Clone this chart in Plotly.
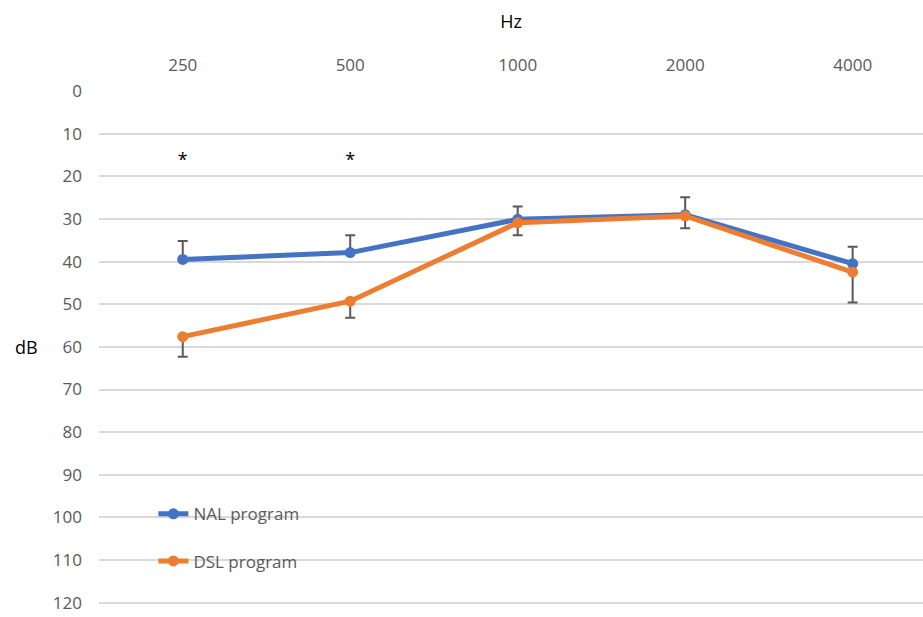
import plotly.graph_objects as go

freqs = ["250", "500", "1000", "2000", "4000"]
nal = [39.5, 37.9, 30.1, 29.0, 40.5]
nal_err = [4.3, 4.1, 3.0, 4.1, 4.0]
dsl = [57.6, 49.3, 30.9, 29.3, 42.5]
dsl_err = [4.7, 3.9, 2.9, 2.9, 7.1]
star_freqs = ["250", "500"]
star_y = [16.5, 16.5]
y_ticks = [0, 10, 20, 30, 40, 50, 60, 70, 80, 90, 100, 110, 120]

BLUE = "#4472C4"
ORANGE = "#ED7D31"
GREY = "#595959"
FONT = "Open Sans"

fig = go.Figure()
fig.add_trace(go.Scatter(
    x=freqs, y=nal, name="NAL program", mode="lines+markers",
    line=dict(color=BLUE, width=5), marker=dict(color=BLUE, size=11),
    error_y=dict(type="data", symmetric=False, array=[0]*5, arrayminus=nal_err,
                 color=GREY, thickness=2, width=5),
    legendgroup="a",
))
fig.add_trace(go.Scatter(
    x=freqs, y=dsl, name="DSL program", mode="lines+markers",
    line=dict(color=ORANGE, width=5), marker=dict(color=ORANGE, size=11),
    error_y=dict(type="data", symmetric=False, array=dsl_err, arrayminus=[0]*5,
                 color=GREY, thickness=2, width=5),
    legendgroup="b",
))
fig.add_trace(go.Scatter(
    x=star_freqs, y=star_y, mode="text", text=["*", "*"],
    textfont=dict(family=FONT, size=18, color="#000000"),
    showlegend=False, hoverinfo="skip",
))

fig.update_layout(
    width=923, height=617,
    margin=dict(l=99, r=0, t=91, b=13, autoexpand=False),
    paper_bgcolor="white", plot_bgcolor="white",
    font=dict(family=FONT, size=17, color=GREY),
    showlegend=True,
    legend=dict(x=0.066, y=0.21, xanchor="left", yanchor="top",
                bgcolor="rgba(0,0,0,0)", traceorder="grouped",
                tracegroupgap=22, font=dict(family=FONT, size=17, color=GREY)),
    xaxis=dict(
        type="category", side="top", range=[-0.5, 4.42], automargin=False,
        showgrid=False, showline=False, zeroline=False, ticks="",
        tickfont=dict(family=FONT, size=17, color=GREY),
        ticklabelstandoff=16,
        title=dict(text="Hz", font=dict(family=FONT, size=18, color="#000000"), standoff=19),
    ),
    yaxis=dict(
        range=[120.3, 0], tickvals=y_ticks, showgrid=True, gridcolor="#D9D9D9", gridwidth=1.5,
        showline=False, zeroline=False, ticks="", automargin=False,
        tickfont=dict(family=FONT, size=17, color=GREY),
        ticklabelstandoff=16, ticklabeloverflow="allow",
    ),
    annotations=[dict(text="dB", xref="paper", yref="y", x=-0.088, y=60,
                      xanchor="center", yanchor="middle", showarrow=False,
                      font=dict(family=FONT, size=18, color="#000000"))],
)

fig.write_html("out.html", config={"displayModeBar": False},
               post_script="document.body.style.margin='0';document.body.style.overflow='hidden';")
